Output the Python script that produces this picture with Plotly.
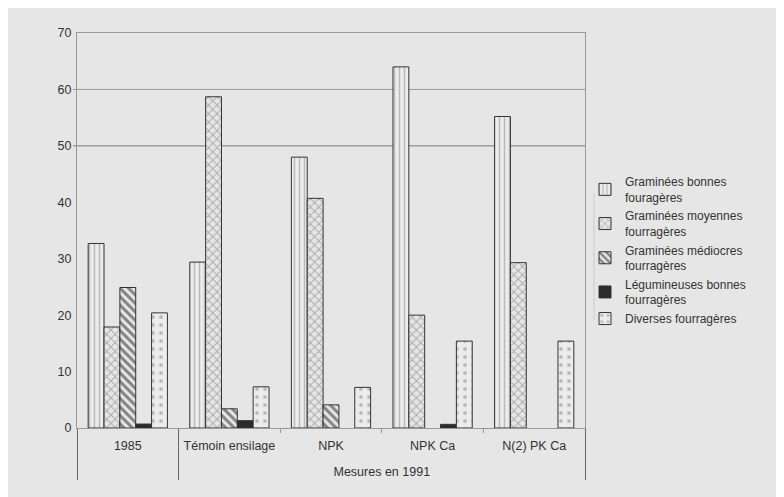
import plotly.graph_objects as go

outer = [" ", "<br>Mesures en 1991", "<br>Mesures en 1991", "<br>Mesures en 1991", "<br>Mesures en 1991"]
inner = ["1985", "Témoin ensilage", "NPK", "NPK Ca", "N(2) PK Ca"]

series_names = [
    "Graminées bonnes<br>fouragères",
    "Graminées moyennes<br>fourragères",
    "Graminées médiocres<br>fourragères",
    "Légumineuses bonnes<br>fourragères",
    "Diverses fourragères",
]
bonnes = [32.7, 29.4, 48.0, 64.0, 55.2]
moyennes = [17.9, 58.7, 40.7, 20.0, 29.3]
mediocres = [24.9, 3.4, 4.1, None, None]
legumineuses = [0.7, 1.3, None, 0.65, None]
diverses = [20.4, 7.3, 7.2, 15.4, 15.4]

values = [bonnes, moyennes, mediocres, legumineuses, diverses]
patterns = ["|", "x", "\\", "", "."]
fills = ["#ececec", "#e6e6e6", "#e8e8e8", "#2b2b2b", "#ececec"]
fg = ["#888888", "#707070", "#1e1e1e", "#2b2b2b", "#8a8a8a"]
sizes = [5, 6, 6, 8, 8]
solid = [0.3, 0.3, 0.5, 0.3, 0.18]

font = "Liberation Sans, Arial, sans-serif"
fig = go.Figure()
for name, vals, pat, fc, fgc, sz, so in zip(series_names, values, patterns, fills, fg, sizes, solid):
    fig.add_trace(go.Bar(
        x=[outer, inner], y=vals, name=name,
        marker=dict(color=fc, line=dict(color="#333333", width=1),
                    pattern=dict(shape=pat, fgcolor=fgc, bgcolor=fc, size=sz, solidity=so)),
    ))

bg = "#e6e6e6"
fig.update_layout(
    width=776, height=489,
    paper_bgcolor=bg, plot_bgcolor=bg,
    margin=dict(l=69, r=199, t=25, b=69),
    barmode="group", bargap=0.22, bargroupgap=0,
    font=dict(family=font, size=12.5, color="#333333"),
    legend=dict(x=1.0, xanchor="left", y=0.45, yanchor="middle",
                bgcolor="rgba(0,0,0,0)", font=dict(size=12, color="#333333"),
                tracegroupgap=0, itemwidth=30),
    showlegend=True,
    xaxis=dict(type="multicategory", showline=True, linecolor="#999999", linewidth=1,
               mirror=True, ticks="outside", ticklen=4, tickcolor="#999999",
               ticklabelstandoff=6,
               dividercolor="#666666", dividerwidth=1, showgrid=False,
               tickfont=dict(size=12.5, color="#333333")),
    yaxis=dict(range=[0, 70], dtick=10, showgrid=False, showline=True,
               linecolor="#999999", linewidth=1, mirror=True, zeroline=False,
               ticks="", ticklabelstandoff=2, tickfont=dict(size=12.5, color="#333333")),
)
for yv, col in [(50, "#777777"), (60, "#999999")]:
    fig.add_shape(type="line", xref="paper", yref="y", x0=-0.008, x1=1, y0=yv, y1=yv,
                  line=dict(color=col, width=1), layer="below")
# legend frame line
fig.add_shape(type="line", xref="paper", yref="paper", x0=1.0177, x1=1.0177,
              y0=(428 - 320) / 395, y1=(428 - 193) / 395,
              line=dict(color="#cccccc", width=1))

fig.write_html("out.html")
